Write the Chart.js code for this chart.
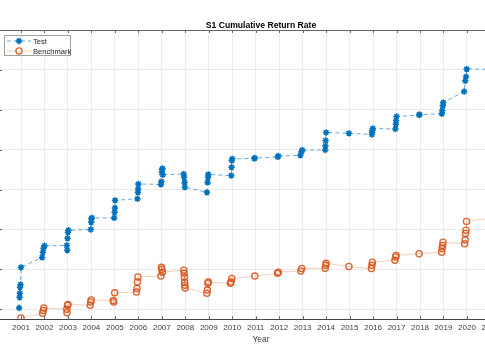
<!DOCTYPE html>
<html>
<head>
<meta charset="utf-8">
<script src="https://cdn.jsdelivr.net/npm/chart.js@4/dist/chart.umd.min.js"></script>
<style>
  html, body { margin: 0; padding: 0; background: #fff; overflow: hidden; }
  #marco { position: relative; width: 485px; height: 360px; overflow: hidden; }
  #envoltura { position: absolute; left: -2px; top: 0; width: 530px; height: 360px; }
</style>
</head>
<body>
<div id="marco"><div id="envoltura"><canvas id="graficoRetorno"></canvas></div></div>
<script>
// años del eje x
const anios = [2001, 2002, 2003, 2004, 2005, 2006, 2007, 2008, 2009, 2010, 2011,
  2012, 2013, 2014, 2015, 2016, 2017, 2018, 2019, 2020, 2021, 2022];
const lineasY = [0, 1, 2, 3, 4, 5, 6, 7];

// serie "Test"
const testX = [
  2000.92, 2000.94, 2000.95, 2000.96, 2000.98, 2001.0,
  2001.9, 2001.93, 2001.96, 2002.0,
  2002.95, 2002.97, 2002.98, 2003.0, 2003.02,
  2003.97, 2003.99, 2004.0, 2004.02,
  2004.97, 2004.99, 2005.0, 2005.01,
  2005.96, 2005.98, 2005.99, 2006.0,
  2006.96, 2006.98, 2007.0, 2007.01, 2007.03, 2007.04,
  2007.93, 2007.95, 2007.97, 2007.98,
  2008.92, 2008.95, 2008.97, 2008.98,
  2009.96, 2009.97, 2009.98, 2010.0,
  2010.94, 2010.96,
  2011.94, 2011.96,
  2012.9, 2012.95, 2012.98,
  2013.96, 2013.97, 2013.98, 2014.0,
  2014.97,
  2015.95, 2015.96, 2015.97, 2015.99,
  2016.95, 2016.97, 2016.98, 2017.0,
  2017.96, 2017.98,
  2018.93, 2018.95, 2018.97, 2018.99,
  2019.88, 2019.93, 2019.96, 2019.99,
  2021.6
];
const testY = [
  0.03, 0.30, 0.40, 0.55, 0.62, 1.05,
  1.30, 1.43, 1.53, 1.59,
  1.60, 1.48, 1.78, 1.93, 1.98,
  2.00, 2.18, 2.27, 2.29,
  2.29, 2.43, 2.54, 2.73,
  2.77, 2.93, 3.02, 3.14,
  3.13, 3.20, 3.43, 3.50, 3.53, 3.37,
  3.39, 3.31, 3.18, 3.06,
  2.93, 3.18, 3.31, 3.38,
  3.35, 3.56, 3.73, 3.77,
  3.78, 3.79,
  3.82, 3.84,
  3.86, 3.95, 3.99,
  3.99, 4.10, 4.23, 4.43,
  4.41,
  4.38, 4.43, 4.49, 4.53,
  4.52, 4.64, 4.73, 4.83,
  4.87, 4.88,
  4.90, 4.98, 5.10, 5.18,
  5.46, 5.73, 5.83, 6.02,
  6.02
];

// serie "Benchmark"
const benchX = [
  2001.0,
  2001.92, 2001.95, 2001.97,
  2002.95, 2002.96, 2002.98, 2003.0,
  2003.95, 2003.97, 2003.99,
  2004.93, 2004.95, 2004.99,
  2005.92, 2005.94, 2005.96, 2005.98,
  2006.96, 2006.98, 2007.0, 2007.02,
  2007.94, 2007.95, 2007.96, 2007.97, 2007.98, 2007.99,
  2008.92, 2008.94, 2008.96, 2008.98,
  2009.92, 2009.95, 2009.98,
  2010.96,
  2011.93, 2011.96,
  2012.92, 2012.96,
  2013.96, 2013.98, 2014.0,
  2014.97,
  2015.93, 2015.95, 2015.97,
  2016.93, 2016.96, 2016.98,
  2017.96,
  2018.92, 2018.94, 2018.96, 2018.98,
  2019.9, 2019.92, 2019.94, 2019.96, 2019.98,
  2021.6
];
const benchY = [
  -0.22,
  -0.10, -0.03, 0.03,
  0.00, -0.09, 0.10, 0.12,
  0.10, 0.18, 0.23,
  0.22, 0.18, 0.41,
  0.43, 0.52, 0.68, 0.81,
  0.83, 1.05, 1.00, 0.93,
  0.98, 0.90, 0.80, 0.68, 0.60, 0.53,
  0.40, 0.48, 0.65, 0.68,
  0.65, 0.68, 0.77,
  0.83,
  0.90, 0.93,
  0.96, 1.02,
  1.03, 1.10, 1.15,
  1.07,
  1.02, 1.10, 1.18,
  1.23, 1.31, 1.35,
  1.39,
  1.43, 1.52, 1.60, 1.68,
  1.64, 1.74, 1.90, 1.98, 2.20,
  2.33
];

const fuente = "'Liberation Sans', Arial, Helvetica, sans-serif";
const azul = "#0072BD";

// marco de ejes estilo MATLAB: borde superior y marcas hacia dentro
const marcasEjes = {
  id: "marcasEjes",
  afterDraw(chart) {
    const { ctx, chartArea, scales } = chart;
    ctx.save();
    ctx.strokeStyle = "#666";
    ctx.lineWidth = 1;
    ctx.beginPath();
    ctx.moveTo(chartArea.left, chartArea.top + 0.5);
    ctx.lineTo(chartArea.right, chartArea.top + 0.5);
    anios.forEach((a) => {
      const x = Math.round(scales.x.getPixelForValue(a)) + 0.5;
      ctx.moveTo(x, chartArea.top);
      ctx.lineTo(x, chartArea.top + 3);
      ctx.moveTo(x, chartArea.bottom);
      ctx.lineTo(x, chartArea.bottom - 3);
    });
    lineasY.forEach((v) => {
      const y = Math.round(scales.y.getPixelForValue(v)) + 0.5;
      ctx.moveTo(chartArea.left, y);
      ctx.lineTo(chartArea.left + 4, y);
    });
    ctx.stroke();
    ctx.restore();
  },
};

// leyenda en caja, arriba a la izquierda
const cajaLeyenda = {
  id: "cajaLeyenda",
  afterDraw(chart) {
    const { ctx, chartArea } = chart;
    const x0 = chartArea.left + 6;
    const y0 = chartArea.top + 5;
    ctx.save();
    ctx.fillStyle = "#fff";
    ctx.fillRect(x0, y0, 67, 21);
    ctx.strokeStyle = "#a0a0a0";
    ctx.lineWidth = 1;
    ctx.strokeRect(x0 + 0.5, y0 + 0.5, 66, 20);
    chart.data.datasets.forEach((ds, i) => {
      const y = y0 + 6 + i * 10;
      ctx.strokeStyle = ds.borderColor;
      ctx.lineWidth = 1;
      ctx.setLineDash(ds.borderDash || []);
      ctx.beginPath();
      ctx.moveTo(x0 + 3, y);
      ctx.lineTo(x0 + 27, y);
      ctx.stroke();
      ctx.setLineDash([]);
      ctx.strokeStyle = ds.pointBorderColor;
      ctx.fillStyle = ds.pointBackgroundColor;
      ctx.lineWidth = ds.pointBorderWidth;
      Chart.helpers.drawPoint(ctx, { pointStyle: ds.pointStyle, radius: ds.pointRadius, rotation: 0, borderWidth: ds.pointBorderWidth }, x0 + 15, y);
      ctx.fillStyle = "#222";
      ctx.font = "7.6px " + fuente;
      ctx.textBaseline = "middle";
      ctx.fillText(ds.label, x0 + 29, y + 0.5);
    });
    ctx.restore();
  },
};

const ctx = document.getElementById("graficoRetorno").getContext("2d");
new Chart(ctx, {
  type: "line",
  data: {
    datasets: [
      {
        label: "Test",
        data: testX.map((x, i) => ({ x: x, y: testY[i] })),
        borderColor: "rgba(0, 114, 189, 0.6)",
        borderDash: [4, 3],
        borderWidth: 1,
        pointStyle: "star",
        pointRadius: 3.2,
        pointBorderColor: azul,
        pointBackgroundColor: azul,
        pointBorderWidth: 1.5,
        tension: 0,
      },
      {
        label: "Benchmark",
        data: benchX.map((x, i) => ({ x: x, y: benchY[i] })),
        borderColor: "rgba(217, 83, 25, 0.28)",
        borderWidth: 1,
        pointStyle: "circle",
        pointRadius: 3.1,
        pointBorderColor: "rgba(217, 83, 25, 0.9)",
        pointBackgroundColor: "rgba(255, 255, 255, 0)",
        pointBorderWidth: 1.3,
        tension: 0,
      },
    ],
  },
  options: {
    responsive: true,
    maintainAspectRatio: false,
    animation: false,
    events: [],
    layout: { autoPadding: false, padding: { left: 0, right: 4, top: 0, bottom: 15.5 } },
    plugins: {
      legend: { display: false },
      tooltip: { enabled: false },
      title: {
        display: true,
        text: "S1 Cumulative Return Rate",
        color: "#000",
        font: { family: fuente, size: 8.6, weight: "bold" },
        padding: { top: 20.2, bottom: -0.5 },
      },
    },
    scales: {
      x: {
        type: "linear",
        min: 2000.02,
        max: 2022.43,
        afterBuildTicks: (escala) => {
          escala.ticks = anios.map((a) => ({ value: a }));
        },
        afterFit: (escala) => {
          escala.paddingLeft = 0;
          escala.paddingRight = 0;
        },
        ticks: {
          callback: (v) => String(v),
          color: "#404040",
          font: { family: fuente, size: 8 },
          padding: 3.5,
          maxRotation: 0,
          autoSkip: false,
        },
        grid: { color: "#ebebeb", lineWidth: 1, drawTicks: false },
        border: { display: true, color: "#444", width: 1 },
        title: {
          display: true,
          text: "Year",
          color: "#404040",
          font: { family: fuente, size: 8.5 },
          padding: { top: -1.5, bottom: 0 },
        },
      },
      y: {
        type: "linear",
        min: -0.25,
        max: 7,
        afterBuildTicks: (escala) => {
          escala.ticks = lineasY.map((v) => ({ value: v }));
        },
        afterFit: (escala) => {
          escala.width = 0;
        },
        ticks: { display: false },
        grid: { color: "#ebebeb", lineWidth: 1, drawTicks: false },
        border: { display: false },
      },
    },
  },
  plugins: [marcasEjes, cajaLeyenda],
});
</script>
</body>
</html>
